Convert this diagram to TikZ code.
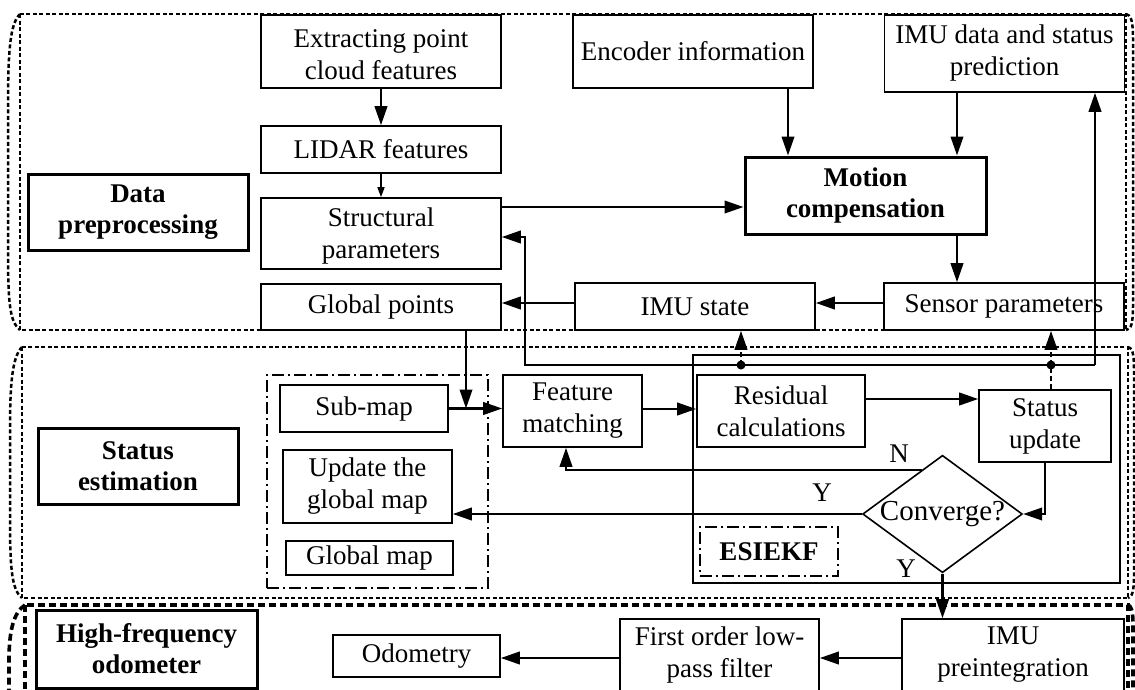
\documentclass[tikz,border=0pt]{standalone}
\usepackage{fontspec}
\setmainfont{Liberation Serif}
\usetikzlibrary{arrows.meta,shapes.geometric,calc}

\begin{document}
\begin{tikzpicture}[x=1pt,y=-1pt,
  txt/.style={font=\fontsize{27}{32}\selectfont},
  box/.style={draw,line width=1.6pt,align=center,inner sep=0pt,txt},
  bbox/.style={draw,line width=3pt,align=center,inner sep=0pt,font=\fontsize{27}{31}\selectfont\bfseries},
  arr/.style={line width=2.3pt,-{Triangle[length=19pt,width=12.5pt]}},
  sarr/.style={line width=1.5pt,-{Triangle[length=10pt,width=7pt]}},
  dsh/.style={dash pattern=on 5pt off 3pt},
  grp/.style={line width=2.5pt,dash pattern=on 4pt off 2.5pt},
  grpb/.style={line width=3.6pt,dash pattern=on 7pt off 4pt},
  dashdot/.style={draw,line width=1.5pt,dash pattern=on 12pt off 4pt on 2pt off 4pt},
  jdot/.style={circle,fill,inner sep=0pt,minimum size=9pt},
]
\useasboundingbox (0,0) rectangle (1135,689);
\clip (0,0) rectangle (1135,689);

% ---------- group frames ----------
\draw[grp] (20,14) rectangle (1126,330);
\draw[grp] (20,14) .. controls (10,24) and (8,50) .. (8,110) -- (8,250) .. controls (8,305) and (10,322) .. (20,330);
\draw[grp] (1126,14) .. controls (1131,15) and (1133,20) .. (1133,40) -- (1133,305) .. controls (1133,325) and (1131,329) .. (1126,330);

\draw[grp] (22,347) rectangle (1128,598);
\draw[grp] (22,347) .. controls (12,357) and (10,385) .. (10,430) -- (10,520) .. controls (10,570) and (12,590) .. (22,598);
\draw[grp] (1128,347) .. controls (1132,348) and (1134,352) .. (1134,370) -- (1134,575) .. controls (1134,592) and (1132,597) .. (1128,598);

\draw[grpb] (25,605) rectangle (1128,700);
\draw[grpb] (25,605) .. controls (14,612) and (9,630) .. (9,660) -- (9,700);
\draw[grpb] (1128,605) .. controls (1131,606) and (1133,610) .. (1133,625) -- (1133,700);

% ---------- data preprocessing ----------
\node[box,minimum width=240pt,minimum height=73pt] (ext) at (381,51.5) {\rule{0pt}{24pt}Extracting point\\cloud features};
\node[box,minimum width=240pt,minimum height=73pt] (enc) at (693,51.5) {Encoder information};
\node[box,minimum width=240pt,minimum height=77pt] (imud) at (1004.5,53.5) {IMU data and status\\prediction};
\node[box,minimum width=240pt,minimum height=47pt] (lid) at (381,149.5) {LIDAR features};
\node[box,minimum width=240pt,minimum height=71pt] (str) at (381,233.5) {\rule{0pt}{24pt}Structural\\parameters};
\node[box,minimum width=240pt,minimum height=46pt] (gp) at (381,307) {Global points};
\node[bbox,minimum width=220pt,minimum height=76pt] (dp) at (138,212) {Data\\preprocessing};
\node[bbox,minimum width=241pt,minimum height=77pt] (mc) at (865.5,195.5) {Motion\\compensation};
\node[box,minimum width=240pt,minimum height=47pt] (ims) at (695,306.5) {IMU state};
\node[box,minimum width=240pt,minimum height=47pt] (sen) at (1004,306.5) {Sensor parameters};

% ---------- status estimation ----------
\node[bbox,minimum width=200pt,minimum height=76pt] (se) at (138,466) {Status\\estimation};
\node[dashdot,minimum width=221pt,minimum height=213pt] (maps) at (377.5,481.5) {};
\node[box,minimum width=168pt,minimum height=47pt] (sub) at (364,408.5) {Sub-map};
\node[box,minimum width=169pt,minimum height=73pt] (upd) at (367.5,486.5) {Update the\\global map};
\node[box,minimum width=167pt,minimum height=34pt] (glob) at (369.5,558) {Global map};
\node[draw,line width=2.3pt,minimum width=427pt,minimum height=228pt] (ekf) at (906.5,469) {};
\node[dashdot,minimum width=138pt,minimum height=49pt,font=\fontsize{27}{31}\selectfont\bfseries] (ekfl) at (769,551.5) {ESIEKF};
\node[box,minimum width=139pt,minimum height=72pt] (fm) at (572.5,411) {Feature\\matching};
\node[box,minimum width=168pt,minimum height=72pt] (res) at (781,411) {Residual\\calculations};
\node[box,minimum width=132pt,minimum height=72pt] (su) at (1045,426) {Status\\update};
\node[draw,diamond,line width=1.6pt,inner sep=0pt,shape aspect=1.36,
      minimum width=155pt,minimum height=114pt,font=\fontsize{29}{32}\selectfont] (conv) at (942.5,514) {Converge?};

% ---------- high-frequency odometer ----------
\node[bbox,minimum width=221pt,minimum height=78pt] (hf) at (146.5,649) {High-frequency\\odometer};
\node[box,minimum width=167pt,minimum height=42pt] (odo) at (416.5,656) {Odometry};
\node[box,minimum width=199pt,minimum height=72pt] (flp) at (719.5,655) {First order low-\\pass filter};
\node[box,minimum width=222pt,minimum height=72pt] (imup) at (1013,655) {IMU\\preintegration};

% ---------- connectors: preprocessing ----------
\draw[arr] (ext.south) -- (lid.north);
\draw[sarr] (lid.south) -- (str.north);
\draw[arr] ([yshift=-11.5pt]mc.west -| str.east) -- ([yshift=-11.5pt]mc.west);
\draw[arr] ([xshift=95pt]enc.south) -- ([xshift=95pt]enc.south |- mc.north);
\draw[arr] ([xshift=-47.5pt]imud.south) -- ([xshift=-47.5pt]imud.south |- mc.north);
\draw[arr] ([xshift=91.5pt]mc.south) -- ([xshift=91.5pt]mc.south |- sen.north);
\draw[arr] ([yshift=3.5pt]sen.west) -- ([yshift=3.5pt]sen.west -| ims.east);
\draw[arr] ([yshift=3.5pt]ims.west) -- ([yshift=3.5pt]ims.west -| gp.east);

% ---------- feedback loop ----------
\coordinate (jL) at (525,365);
\coordinate (jR) at (1095,365);
\node[jdot] (d1) at (741,365) {};
\node[jdot] (d2) at (1051,365) {};
\draw[arr] (jR) -- (jR |- imud.south);
\draw[arr] (jR) -- (jL) |- ([yshift=-3.5pt]str.east);
\draw[arr,dsh] (d1.center) -- (d1.center |- ims.south);
\draw[line width=2.3pt,dsh] (d2.center |- su.north) -- (d2.center);
\draw[arr,dsh] (d2.center) -- (d2.center |- sen.south);

% ---------- connectors: status estimation ----------
\coordinate (jm) at ([xshift=85pt]gp.south |- sub.east);
\draw[arr] ([xshift=85pt]gp.south) -- (jm);
\draw[arr] (sub.east) -- (sub.east -| fm.west);
\draw[arr] ([yshift=2pt]fm.east) -- ([yshift=2pt]fm.east -| res.west);
\draw[arr] ([yshift=12pt]res.east) -- ([yshift=12pt]res.east -| su.west);
\draw[arr] (su.south) |- (conv.east);
\draw[arr] ($(conv.north)!0.26!(conv.west)$) -| ([xshift=-6.5pt]fm.south);
\draw[arr] (conv.west) -- (conv.west -| upd.east);
\draw[arr] (conv.south) -- (conv.south |- imup.north);
\node[txt] (lN) at (899,454) {N};
\node[txt] (lY1) at (822,493) {Y};
\node[txt] (lY2) at (906,569) {Y};

% ---------- connectors: odometer ----------
\draw[arr] ([yshift=-3pt]imup.west) -- ([yshift=-3pt]imup.west -| flp.east);
\draw[arr] ([yshift=-3pt]flp.west) -- ([yshift=-3pt]flp.west -| odo.east);
\end{tikzpicture}
\end{document}
